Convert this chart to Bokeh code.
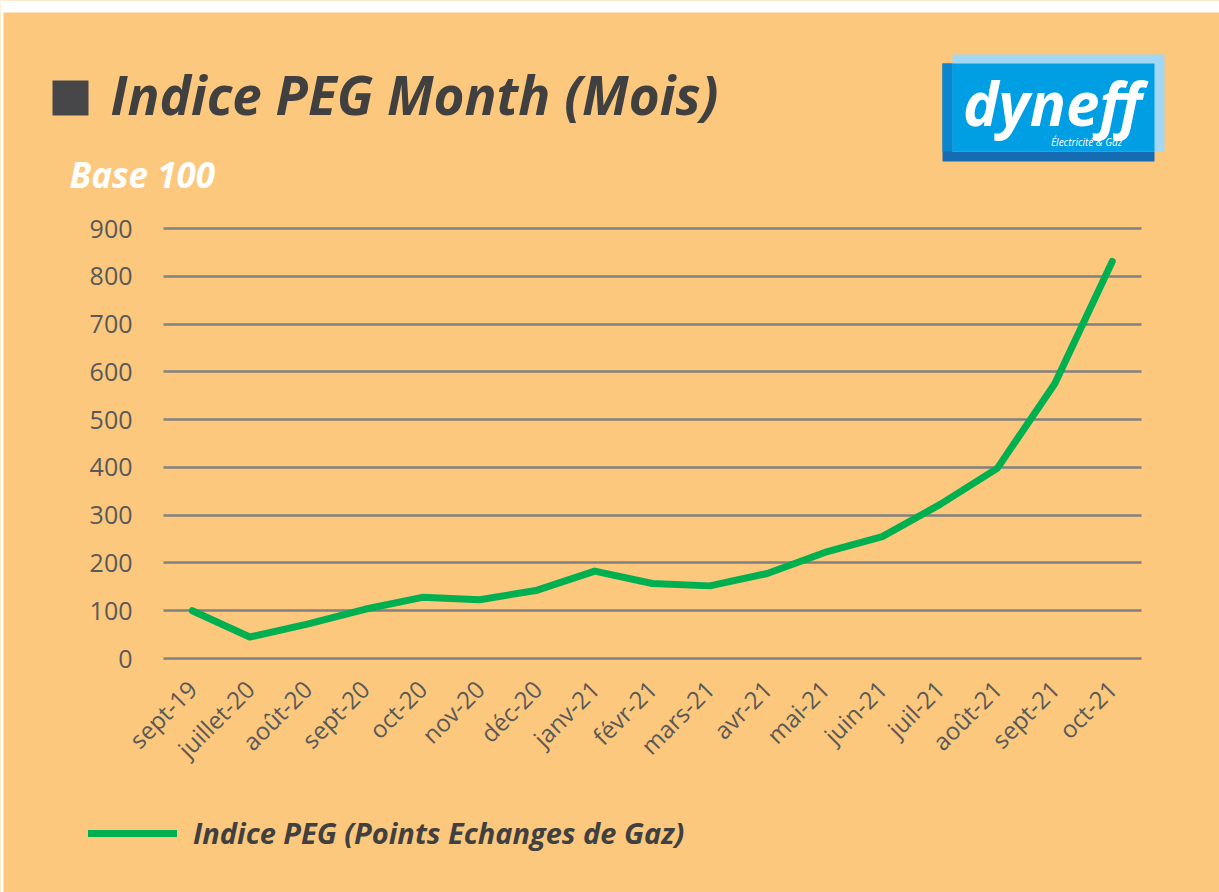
from bokeh.plotting import figure
from bokeh.models import (Range1d, FixedTicker, Label, BoxAnnotation, Legend, LegendItem)
from bokeh.embed import file_html
from bokeh.resources import INLINE
import math

# ---- data ----
months = ["sept-19", "juillet-20", "août-20", "sept-20", "oct-20", "nov-20", "déc-20",
          "janv-21", "févr-21", "mars-21", "avr-21", "mai-21", "juin-21", "juil-21",
          "août-21", "sept-21", "oct-21"]
peg_index = [100, 45, 72, 103, 128, 123, 143, 183, 157, 152, 178, 222, 255, 322, 398, 575, 831]
y_ticks = [0, 100, 200, 300, 400, 500, 600, 700, 800, 900]

title_text = "Indice PEG Month (Mois)"
subtitle_text = "Base 100"
legend_text = "Indice PEG (Points Echanges de Gaz)"

BG = "#FCC87D"
FONT = "Open Sans"
W, H = 1219, 892

# chart area (page px): categories 163..1141, value 0 at y=658, 900 at y=228
CAT_W = 57.5
X0 = 163.0
PX_PER_UNIT = 430.0 / 900.0
Y0 = 658.0

x_pos = list(range(len(months)))
x_start = -X0 / CAT_W - 0.5
x_end = (W - X0) / CAT_W - 0.5
y_start = (Y0 - H) / PX_PER_UNIT
y_end = Y0 / PX_PER_UNIT

p = figure(width=W, height=H, output_backend="svg", toolbar_location=None,
           x_range=Range1d(x_start, x_end), y_range=Range1d(y_start, y_end),
           min_border=0, min_border_left=0, min_border_right=0,
           min_border_top=0, min_border_bottom=0)
p.background_fill_color = BG
p.border_fill_color = BG
p.outline_line_color = None

def sx(x):
    return x
def sy(y):
    return H - y

# y axis
p.yaxis.fixed_location = -0.5
p.yaxis.ticker = FixedTicker(ticks=y_ticks)
p.yaxis.axis_line_color = None
p.yaxis.major_tick_line_color = None
p.yaxis.minor_tick_line_color = None
p.yaxis.major_label_standoff = 25
p.yaxis.major_label_text_font = FONT
p.yaxis.major_label_text_font_size = "25px"
p.yaxis.major_label_text_color = "#595959"

# x axis (categories)
p.xaxis.fixed_location = (Y0 - 668) / PX_PER_UNIT
p.xaxis.ticker = FixedTicker(ticks=x_pos)
p.xaxis.major_label_overrides = {i: m for i, m in zip(x_pos, months)}
p.xaxis.axis_line_color = None
p.xaxis.major_tick_line_color = None
p.xaxis.minor_tick_line_color = None
p.xaxis.major_label_orientation = math.pi / 4
p.xaxis.major_label_standoff = 10
p.xaxis.major_label_text_font = FONT
p.xaxis.major_label_text_font_size = "24px"
p.xaxis.major_label_text_color = "#595959"

p.xgrid.grid_line_color = None
p.ygrid.ticker = FixedTicker(ticks=y_ticks)
p.ygrid.grid_line_color = "#808080"
p.ygrid.grid_line_width = 2.5
if "cross_bounds" in p.ygrid[0].properties():
    p.ygrid.cross_bounds = (-0.5, len(months) - 0.5)
p.xaxis.bounds = (-0.5, len(months) - 0.5)

line = p.line(x_pos, peg_index, line_color="#00B050", line_width=7, line_join="round",
              line_cap="round")

legend = Legend(items=[LegendItem(label=legend_text, renderers=[line])],
                location=(88, sy(852)), orientation="horizontal",
                glyph_width=89, glyph_height=32, label_standoff=16,
                padding=0, margin=0, spacing=0,
                background_fill_alpha=0, border_line_color=None,
                label_text_font=FONT, label_text_font_style="bold italic",
                label_text_font_size="29px", label_text_color="#404040")
p.add_layout(legend)

def box(l, t, r, b, color):
    p.add_layout(BoxAnnotation(left=sx(l), right=sx(r), top=sy(t), bottom=sy(b),
                               left_units="screen", right_units="screen",
                               top_units="screen", bottom_units="screen",
                               fill_color=color, fill_alpha=1, line_color=None,
                               level="overlay"))

def label(x, y, text, size, style, color, align="left", baseline="alphabetic"):
    p.add_layout(Label(x=sx(x), y=sy(y), x_units="screen", y_units="screen",
                       text=text, text_font=FONT, text_font_style=style,
                       text_font_size=size, text_color=color,
                       text_align=align, text_baseline=baseline, level="overlay"))

# white page edge
box(0, 0, W, 12, "#FFFFFF")
box(0, 0, 3, H, "#FFFFFF")

# title square and texts
box(52, 80, 88, 115, "#47474A")
label(110, 94, title_text, "53px", "bold italic", "#404040")
label(69, 174, subtitle_text, "35px", "bold italic", "#FFFFFF")

# logo
box(942, 63, 1154, 161, "#166CB2")
box(952, 54, 1164, 151, "#A3D8F4")
box(942, 63, 952, 151, "#0A86CF")
box(952, 63, 1154, 151, "#009FE3")
label(1052, 102, "dyneff", "60px", "bold italic", "#FFFFFF", align="center", baseline="middle")
label(1086, 141, "Électricité & Gaz", "10px", "italic", "#FFFFFF", align="center",
      baseline="middle")

open("out.html", "w").write(file_html(p, INLINE))
